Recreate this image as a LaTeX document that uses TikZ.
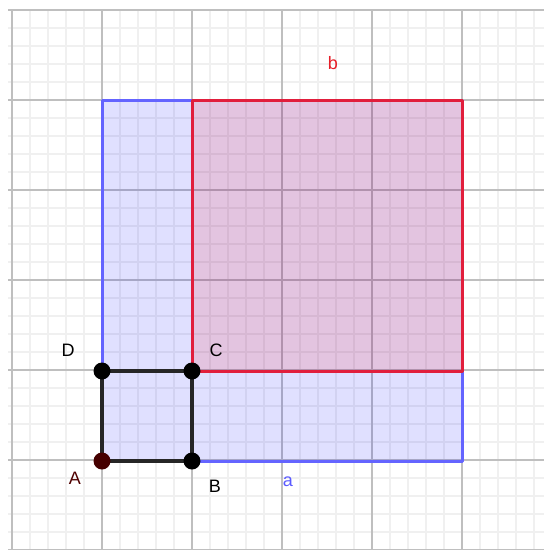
\documentclass[tikz,border=0pt]{standalone}
\usepackage{fontspec}
\setmainfont{Liberation Sans}
\begin{document}
\begin{tikzpicture}[x=1pt,y=-1pt,
  minorgrid/.style={draw=black!6,line width=1.2pt},
  majorgrid/.style={draw=black!25,line width=1.3pt},
  lbl/.style={font=\fontsize{18}{21}\selectfont,inner sep=0pt},
  pt/.style={circle,fill=black,minimum size=17pt,inner sep=0pt},
  sqa/.style={draw={rgb,255:red,100;green,100;blue,255},line width=3pt,fill=blue,fill opacity=0.12,line join=round},
  sqb/.style={draw={rgb,255:red,225;green,30;blue,60},line width=3pt,fill=red,fill opacity=0.12,line join=round},
  sqp/.style={draw=black!85,line width=4.5pt,line join=round}]
\useasboundingbox (0,0) rectangle (544,550);
\fill[white] (0,0) rectangle (544,550);
% grid
\foreach \x in {12,30,...,544} \draw[minorgrid] (\x,10) -- (\x,550);
\foreach \y in {10,28,...,550} \draw[minorgrid] (8,\y) -- (544,\y);
\foreach \x in {12,102,...,544} \draw[majorgrid] (\x,10) -- (\x,550);
\foreach \y in {10,100,...,550} \draw[majorgrid] (8,\y) -- (544,\y);
% points coordinates
\coordinate (A) at (102,461);
\coordinate (B) at (192,461);
\coordinate (C) at (192,371);
\coordinate (D) at (102,371);
\coordinate (E) at (462,461);
\coordinate (F) at (462,100);
\coordinate (G) at (102,100);
\coordinate (H) at (192,100);
\coordinate (K) at (462,371);
% blue square a
\draw[sqa] (A) -- (E) -- (F) -- (G) -- cycle;
% red square b
\draw[sqb] (C) -- (K) -- (F) -- (H) -- cycle;
% small square
\draw[sqp] (A) -- (B) -- (C) -- (D) -- cycle;
\node[pt,fill={rgb,255:red,70;green,0;blue,0}] (pA) at (A) {};
\node[pt] (pB) at (B) {};
\node[pt] (pC) at (C) {};
\node[pt] (pD) at (D) {};
% labels
\node[lbl,text={rgb,255:red,80;green,0;blue,0}] (lA) at (75,478) {A};
\node[lbl] (lB) at (215,486) {B};
\node[lbl] (lC) at (216,350) {C};
\node[lbl] (lD) at (68,350) {D};
\node[lbl,text={rgb,255:red,90;green,90;blue,255}] (la) at (288,482) {a};
\node[lbl,text={rgb,255:red,230;green,30;blue,40}] (lb) at (333,63) {b};
\end{tikzpicture}
\end{document}
